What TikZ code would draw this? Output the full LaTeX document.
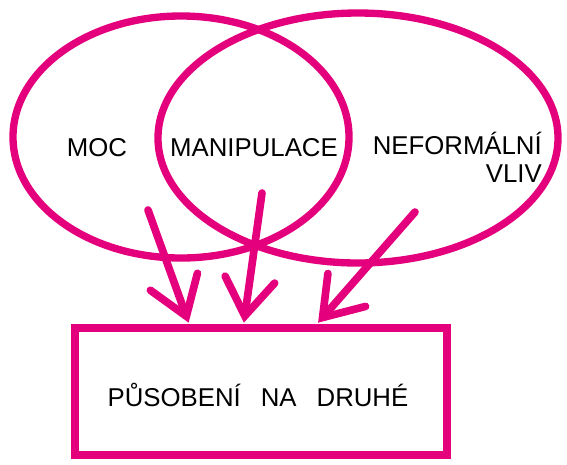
\documentclass[tikz,border=0pt]{standalone}
\usepackage{fontspec}
\setmainfont{Liberation Sans}
\usetikzlibrary{positioning, arrows.meta, shapes.geometric, calc}
\definecolor{ruzova}{RGB}{228,0,124}
\tikzset{kruh/.style={draw=ruzova,ellipse,line width=2.2mm,inner sep=0pt}}
\tikzset{ramecek/.style={draw=ruzova,rectangle,line width=2.6mm}}
\tikzset{sipka/.style={draw=ruzova,line width=2.3mm,line cap=round,line join=round,-{Straight Barb[length=11mm,width=15mm,line cap=round]}}}
\tikzset{popis/.style={font=\fontsize{22}{24}\selectfont,text=black,inner sep=0pt}}

\begin{document}
\begin{tikzpicture}[
                x=0.03cm, y=-0.03cm
            ]
                \useasboundingbox (0,0) rectangle (567,464);

                % dva prekryvajici se ovaly
                \node[kruh, minimum width=10.08cm, minimum height=7.26cm] (moc) at (181,137) {};
                \node[kruh, minimum width=12cm, minimum height=7.5cm] (vliv) at (358,138) {};

                \node[popis] (tmoc) at (97,148) {MOC};
                \node[popis] (tmanip) at (254,148) {MANIPULACE};
                \node[popis, align=right, anchor=north east] (tvliv) at (542,132) {NEFORMÁLNÍ\\VLIV};

                % spolecny cil
                \node[ramecek, minimum width=11.16cm, minimum height=3.81cm] (box) at (261,391.5) {};
                \node[popis] (tbox) at (258,395) {PŮSOBENÍ\hspace{0.6cm}NA\hspace{0.6cm}DRUHÉ};

                \coordinate (a1) at (148,210);
                \coordinate (a2) at (262,193);
                \coordinate (a3) at (415,212);

                \draw[sipka] (a1) -- ($(box.north west)!0.31!(box.north east)+(0,-1)$);
                \draw[sipka] (a2) -- ($(box.north west)!0.455!(box.north east)+(0,-1)$);
                \draw[sipka] (a3) -- ($(box.north west)!0.65!(box.north east)+(0,-1)$);
            \end{tikzpicture}
\end{document}
